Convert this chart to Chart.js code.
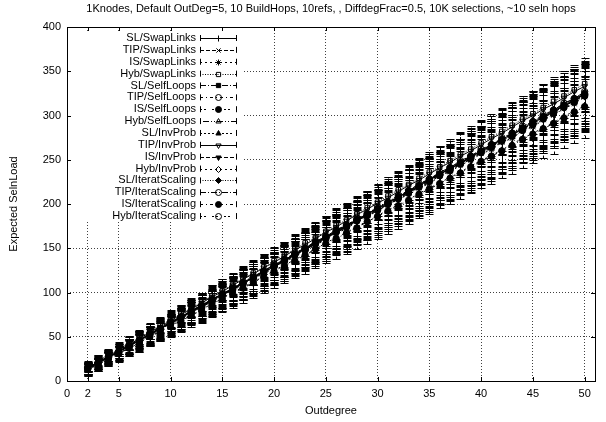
<!DOCTYPE html>
<html>
<head>
<meta charset="utf-8">
<script src="https://cdn.jsdelivr.net/npm/chart.js@4.4.0/dist/chart.umd.min.js"></script>
<style>
  html, body { margin: 0; padding: 0; background: #fff; }
</style>
</head>
<body>
<canvas id="chart1" width="606" height="422"></canvas>
<script>
const titleText = "1Knodes, Default OutDeg=5, 10 BuildHops, 10refs, , DiffdegFrac=0.5, 10K selections, ~10 seln hops";

const outdegree = [2,3,4,5,6,7,8,9,10,11,12,13,14,15,16,17,18,19,20,21,22,23,24,25,26,27,28,29,30,31,32,33,34,35,36,37,38,39,40,41,42,43,44,45,46,47,48,49,50];
const xTicks = [0,2,5,10,15,20,25,30,35,40,45,50];
const yTicks = [0,50,100,150,200,250,300,350,400];

const seriesLabels = [
  "SL/SwapLinks", "TIP/SwapLinks", "IS/SwapLinks", "Hyb/SwapLinks",
  "SL/SelfLoops", "TIP/SelfLoops", "IS/SelfLoops", "Hyb/SelfLoops",
  "SL/InvProb", "TIP/InvProb", "IS/InvProb", "Hyb/InvProb",
  "SL/IteratScaling", "TIP/IteratScaling", "IS/IteratScaling", "Hyb/IteratScaling"
];

// mean selection load per outdegree
const slSwap   = [15,21,28,33,41,46,54,59,67,72,79,86,91,99,104,112,117,125,131,136,144,149,157,162,170,176,181,189,195,202,207,215,220,228,233,241,246,254,259,267,272,280,284,293,297,306,310,319,324];
const tipSwap  = [14,20,26,34,39,46,52,59,65,71,78,83,91,97,103,111,116,123,129,135,142,149,154,161,168,173,181,187,192,200,205,212,219,224,232,237,245,250,258,263,270,275,283,288,296,301,309,314,322];
const isSwap   = [13,19,27,32,39,45,51,58,65,70,77,84,89,96,103,108,116,121,128,135,140,148,153,160,167,172,180,185,193,198,206,210,218,223,231,236,244,249,257,261,270,274,283,287,295,300,308,313,321];
const hybSwap  = [16,23,29,36,43,49,56,63,69,76,82,89,96,102,109,116,122,129,136,142,149,156,162,169,176,182,189,196,202,209,216,222,229,236,242,249,256,262,269,276,282,289,296,302,309,316,322,329,336];
const slSelf   = [14,21,27,33,40,47,53,60,66,73,78,85,92,98,105,110,118,124,130,137,143,150,157,162,169,175,183,188,195,201,209,213,221,226,234,239,247,252,260,265,273,278,286,291,299,303,312,316,325];
const tipSelf  = [15,20,27,33,40,45,53,58,66,71,79,84,91,97,104,110,117,123,130,135,143,148,156,161,169,174,182,187,194,200,207,213,220,226,233,239,246,252,259,265,272,278,285,290,298,303,311,316,323];
const isSelf   = [14,20,26,33,39,46,52,58,65,72,77,84,90,97,103,110,116,123,129,136,142,148,155,161,168,174,181,187,193,200,206,213,219,226,232,238,245,251,258,264,271,277,283,290,296,303,309,315,322];
const hybSelf  = [15,21,27,34,40,46,53,59,66,72,79,85,92,98,104,111,117,124,131,137,143,150,156,163,170,176,182,189,196,202,208,215,222,228,235,241,247,254,261,267,273,280,287,293,299,306,313,319,326];
const slInv    = [13,19,25,31,38,44,50,56,62,69,75,81,87,94,100,106,112,118,125,131,137,143,149,156,162,168,174,181,187,193,199,205,212,218,224,230,236,243,249,255,261,268,274,280,286,292,299,305,311];
const tipInv   = [15,21,28,35,41,48,55,61,68,75,81,88,95,101,108,115,121,128,134,141,148,154,161,168,174,181,188,194,201,207,214,221,227,234,241,247,254,260,267,274,280,287,294,300,307,313,320,327,333];
const isInv    = [15,20,27,33,39,46,53,59,65,72,78,84,91,98,103,110,117,123,129,136,142,149,155,162,168,175,181,188,194,200,207,213,220,226,233,239,245,252,258,265,271,278,284,291,297,304,310,317,323];
const hybInv   = [14,20,27,33,40,46,52,59,66,72,78,85,91,97,104,111,117,123,130,136,143,149,155,162,169,175,181,188,194,201,207,214,220,227,233,240,246,252,259,265,272,278,285,291,298,304,310,317,324];
const slIter   = [14,21,26,34,39,47,52,60,65,73,78,86,90,99,103,112,116,125,129,138,142,151,155,164,168,177,181,190,194,203,207,216,220,229,233,242,246,255,259,268,272,281,285,294,298,307,311,320,324];
const tipIter  = [15,20,28,33,41,46,54,59,67,72,80,85,93,98,106,111,119,124,132,137,145,150,158,163,171,176,184,189,197,202,210,215,223,228,236,241,249,254,262,267,275,280,288,293,301,306,314,319,327];
const isIter   = [13,18,25,31,37,43,50,56,62,68,74,80,87,93,99,105,111,118,124,130,136,142,149,155,161,167,173,180,186,192,198,204,211,217,223,229,235,242,248,254,260,266,273,279,285,291,297,304,310];
const hybIter  = [14,21,27,33,40,46,53,59,66,72,79,85,92,98,105,111,117,124,130,137,143,150,156,163,169,176,182,189,195,202,208,215,221,228,234,241,247,254,260,267,273,280,286,293,299,306,312,319,325];

// error bar half-widths: SwapLinks/SelfLoops runs, by selection method
const errSwSL  = [4,4,5,5,5,6,6,6,7,7,7,8,8,8,9,9,9,10,10,10,11,11,11,12,12,12,13,13,13,14,14,14,15,15,15,16,16,16,17,17,17,18,18,18,19,19,19,20,20];
const errSwTIP = [8,9,9,10,11,12,12,13,14,15,15,16,17,18,18,19,20,21,21,22,23,24,24,25,26,27,27,28,29,30,30,31,32,33,33,34,35,36,36,37,36,37,37,38,38,38,39,39,39];
const errSwIS  = [6,6,7,8,8,9,10,10,11,11,12,13,13,14,15,15,16,16,17,18,18,19,20,20,21,21,22,23,23,24,25,25,26,26,27,28,28,29,30,30,31,31,32,33,33,34,35,35,36];
const errSwHyb = [5,5,6,6,7,7,8,8,9,9,10,10,11,11,12,12,13,13,14,14,15,15,16,16,17,17,18,18,19,19,20,20,21,21,22,22,23,23,24,24,25,25,26,26,27,27,28,28,29];
// error bar half-widths: InvProb/IteratScaling runs
const errIpSL  = [6,7,7,8,8,9,9,10,10,11,11,12,12,13,13,14,14,15,15,16,16,17,17,18,18,19,19,20,20,21,21,22,22,23,23,24,24,25,25,26,26,27,27,28,28,29,29,30,30];
const errIpTIP = [4,5,5,5,6,6,7,7,7,8,8,9,9,9,10,10,11,11,11,12,12,13,13,13,14,14,15,15,15,16,16,17,17,17,18,18,19,19,19,20,20,21,21,21,22,22,23,23,23];
const errIpIS  = [7,7,8,9,9,10,11,11,12,13,13,14,15,15,16,17,17,18,19,19,20,21,21,22,23,23,24,25,25,26,26,27,27,28,28,29,29,30,30,31,31,32,32,33,33,34,34,35,35];
const errIpHyb = [6,6,7,7,8,9,9,10,10,11,12,12,13,13,14,15,15,16,16,17,18,18,19,19,20,21,21,22,22,23,24,24,25,25,26,27,27,28,28,29,30,30,31,31,32,33,33,34,34];

const seriesMeans = [slSwap, tipSwap, isSwap, hybSwap, slSelf, tipSelf, isSelf, hybSelf,
                     slInv, tipInv, isInv, hybInv, slIter, tipIter, isIter, hybIter];
const seriesErrs = [errSwSL, errSwTIP, errSwIS, errSwHyb, errSwSL, errSwTIP, errSwIS, errSwHyb,
                    errIpSL, errIpTIP, errIpIS, errIpHyb, errIpSL, errIpTIP, errIpIS, errIpHyb];

// gnuplot-ish monochrome dash patterns and point types
const dashes = [[], [4,2], [2,3], [1,1.5], [6,2,1,2], [3,3,1,3], [2,2,2,6], [1,2,6,2,1,2], [2,2,2,2,2,2,2,4]];
const points = [
  { style: "cross", fill: false }, { style: "crossRot", fill: false }, { style: "star", fill: false },
  { style: "rect", fill: false }, { style: "rect", fill: true }, { style: "circle", fill: false },
  { style: "circle", fill: true }, { style: "triangle", fill: false }, { style: "triangle", fill: true },
  { style: "triangle", fill: false, rot: 180 }, { style: "triangle", fill: true, rot: 180 },
  { style: "rectRot", fill: false }, { style: "rectRot", fill: true },
  { style: "circle", fill: false }, { style: "circle", fill: true }, { style: "circle", fill: false }
];

const FONT = "'Liberation Sans', Arial, Helvetica, sans-serif";
const CLEAR = "rgba(0,0,0,0)";

const datasets = seriesLabels.map((label, i) => {
  const err = seriesErrs[i];
  const pt = points[i];
  return {
    label: label,
    data: outdegree.map((x, j) => ({ x: x, y: seriesMeans[i][j], lo: seriesMeans[i][j] - err[j], hi: seriesMeans[i][j] + err[j] })),
    borderColor: "#000",
    borderWidth: 1,
    borderDash: dashes[i % 9],
    pointStyle: pt.style,
    pointRotation: pt.rot || 0,
    pointRadius: 3.2,
    pointBorderWidth: 1,
    pointBorderColor: "#000",
    pointBackgroundColor: pt.fill ? "#000" : CLEAR,
    tension: 0,
    fill: false
  };
});

const gnuplotLook = {
  id: "gnuplotLook",
  beforeDatasetsDraw(chart) {
    const ctx = chart.ctx;
    const area = chart.chartArea;
    const xs = chart.scales.x, ys = chart.scales.y;
    // clear key area
    ctx.save();
    ctx.fillStyle = "#fff";
    ctx.fillRect(area.left + 1, 31, 242 - area.left, 191);
    // error bars
    ctx.strokeStyle = "#000";
    ctx.lineWidth = 1;
    chart.data.datasets.forEach((ds, i) => {
      ds.data.forEach(p => {
        const px = Math.round(xs.getPixelForValue(p.x)) + 0.5;
        const y1 = Math.round(ys.getPixelForValue(p.lo)) + 0.5;
        const y2 = Math.round(ys.getPixelForValue(p.hi)) + 0.5;
        ctx.setLineDash(dashes[i % 9]);
        ctx.beginPath();
        ctx.moveTo(px, y1);
        ctx.lineTo(px, y2);
        ctx.stroke();
        ctx.setLineDash([]);
        ctx.beginPath();
        ctx.moveTo(px - 4, y1); ctx.lineTo(px + 4, y1);
        ctx.moveTo(px - 4, y2); ctx.lineTo(px + 4, y2);
        ctx.stroke();
      });
    });
    ctx.restore();
  },
  afterDraw(chart) {
    const ctx = chart.ctx;
    const area = chart.chartArea;
    const xs = chart.scales.x, ys = chart.scales.y;
    ctx.save();
    ctx.strokeStyle = "#000";
    ctx.fillStyle = "#000";
    ctx.lineWidth = 1;
    ctx.setLineDash([]);
    // border
    ctx.strokeRect(Math.round(area.left) + 0.5, Math.round(area.top) + 0.5,
                   Math.round(area.right - area.left), Math.round(area.bottom - area.top));
    // inward ticks on all sides
    ctx.beginPath();
    xTicks.forEach(v => {
      const px = Math.round(xs.getPixelForValue(v)) + 0.5;
      ctx.moveTo(px, area.bottom); ctx.lineTo(px, area.bottom - 4);
      ctx.moveTo(px, area.top); ctx.lineTo(px, area.top + 4);
    });
    yTicks.forEach(v => {
      const py = Math.round(ys.getPixelForValue(v)) + 0.5;
      ctx.moveTo(area.left, py); ctx.lineTo(area.left + 4, py);
      ctx.moveTo(area.right, py); ctx.lineTo(area.right - 4, py);
    });
    ctx.stroke();
    // title
    ctx.font = "11px " + FONT;
    ctx.textAlign = "center";
    ctx.textBaseline = "middle";
    ctx.fillText(titleText, (area.left + area.right) / 2, 9);
    // key
    ctx.textAlign = "right";
    chart.data.datasets.forEach((ds, i) => {
      const y = 38 + i * 11.87;
      ctx.fillStyle = "#000";
      ctx.fillText(ds.label, 196, y);
      ctx.setLineDash(dashes[i % 9]);
      ctx.beginPath();
      ctx.moveTo(200, Math.round(y) + 0.5); ctx.lineTo(237, Math.round(y) + 0.5);
      ctx.stroke();
      ctx.setLineDash([]);
      ctx.beginPath();
      ctx.moveTo(200.5, y - 3); ctx.lineTo(200.5, y + 3);
      ctx.moveTo(236.5, y - 3); ctx.lineTo(236.5, y + 3);
      ctx.stroke();
      ctx.fillStyle = points[i].fill ? "#000" : CLEAR;
      Chart.helpers.drawPoint(ctx, { pointStyle: points[i].style, rotation: points[i].rot || 0, radius: 3, borderWidth: 1 }, 218.5, Math.round(y) + 0.5);
    });
    ctx.restore();
  }
};

const ctx1 = document.getElementById("chart1").getContext("2d");

new Chart(ctx1, {
  type: "line",
  data: { datasets: datasets },
  plugins: [gnuplotLook],
  options: {
    responsive: false,
    animation: false,
    events: [],
    layout: { padding: { top: 27, right: 11, left: 0, bottom: 0 } },
    plugins: { legend: { display: false }, tooltip: { enabled: false }, title: { display: false } },
    scales: {
      x: {
        type: "linear",
        min: 0,
        max: 51,
        afterBuildTicks: s => { s.ticks = xTicks.map(v => ({ value: v })); },
        afterFit: s => { s.height = 41; },
        grid: { color: "rgba(0,0,0,0.75)", drawTicks: false, lineWidth: 1 },
        border: { display: false, dash: [1, 2] },
        ticks: { color: "#000", font: { size: 11, family: FONT }, padding: 6, maxRotation: 0, autoSkip: false },
        title: { display: true, text: "Outdegree", color: "#000", font: { size: 11, family: FONT }, padding: { top: 0, bottom: 4 } }
      },
      y: {
        min: 0,
        max: 400,
        afterBuildTicks: s => { s.ticks = yTicks.map(v => ({ value: v })); },
        afterFit: s => { s.width = 67; },
        grid: { color: "rgba(0,0,0,0.75)", drawTicks: false, lineWidth: 1 },
        border: { display: false, dash: [1, 2] },
        ticks: { color: "#000", font: { size: 11, family: FONT }, padding: 6 },
        title: { display: true, text: "Expected SelnLoad", color: "#000", font: { size: 11, family: FONT }, padding: { top: 7, bottom: 0 } }
      }
    }
  }
});
</script>
</body>
</html>
